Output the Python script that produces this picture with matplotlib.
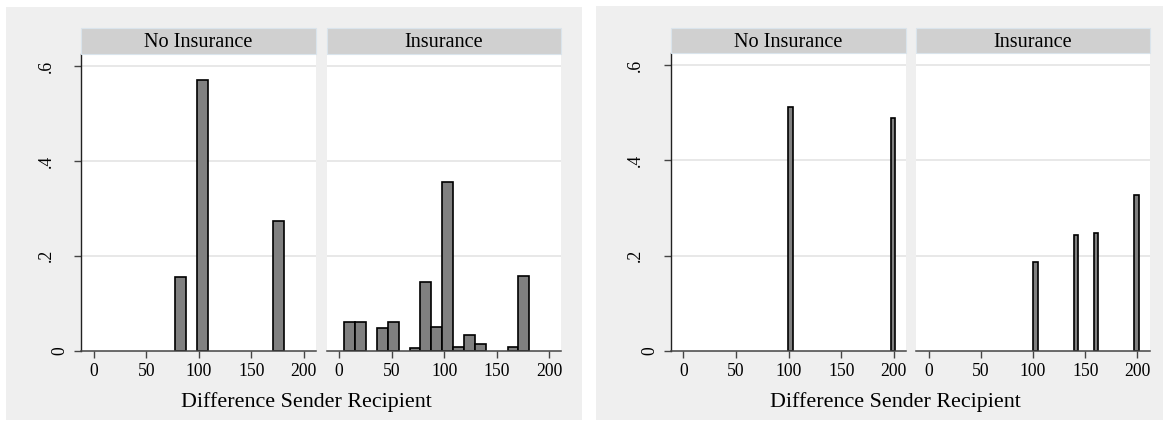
import matplotlib
matplotlib.use("Agg")
import matplotlib.pyplot as plt
from matplotlib.patches import Rectangle
import matplotlib.transforms as mtransforms

# ---------------- data ----------------
panel_titles = ["No Insurance", "Insurance"]
x_label = "Difference Sender Recipient"
x_ticks = [0, 50, 100, 150, 200]
y_ticks = [0, 0.2, 0.4, 0.6]
y_tick_labels = ["0", ".2", ".4", ".6"]

# left graph: histogram bins (midpoints) and fractions
left_bins = [10.0, 20.4, 30.7, 41.1, 51.5, 61.8, 72.2, 82.6, 92.9, 103.3,
             113.7, 124.1, 134.4, 144.8, 155.2, 165.5, 175.9]
left_no_insurance = [0, 0, 0, 0, 0, 0, 0, 0.156, 0, 0.5705,
                     0, 0, 0, 0, 0, 0, 0.2733]
left_insurance = [0.0598, 0.0598, 0, 0.047, 0.0598, 0, 0.005, 0.144, 0.0506, 0.356,
                  0.0084, 0.034, 0.0135, 0, 0, 0.0084, 0.157]

# right graph
right_no_ins_bins = [102.0, 199.2]
right_no_insurance = [0.512, 0.4898]
right_ins_bins = [102.2, 141.0, 160.3, 199.2]
right_insurance = [0.1863, 0.2424, 0.2466, 0.3267]

# ---------------- style ----------------
W, H = 1165, 421
FONT = "Liberation Serif"
BG = "#efefef"
STRIP = "#d0d0d0"
STRIP_EDGE = "#dae4ec"
GRID = "#e6e6e6"
BAR = "#808080"
AX = "#444444"

fig = plt.figure(figsize=(W / 100, H / 100), dpi=100)
fig.patch.set_facecolor("white")


def frac_rect(x0, y0, x1, y1):
    return [x0 / W, 1 - y1 / H, (x1 - x0) / W, (y1 - y0) / H]


def add_graph(bg, panels_x, y_top, y_bot, strip_top, title_x, data, width):
    x0, y0, x1, y1 = bg
    fig.add_artist(Rectangle((x0 / W, 1 - y1 / H), (x1 - x0) / W, (y1 - y0) / H,
                             transform=fig.transFigure, facecolor=BG,
                             edgecolor="none", zorder=0))
    for i, ((px0, px1), (bins, vals)) in enumerate(zip(panels_x, data)):
        ax = fig.add_axes(frac_rect(px0, y_top, px1, y_bot))
        ax.set_facecolor("white")
        xs = [b for b, v in zip(bins, vals) if v > 0]
        hs = [v for v in vals if v > 0]
        ax.bar(xs, hs, width=width, color=BAR, edgecolor="black",
               linewidth=1.2, zorder=3)
        ax.set_xlim(-11.8, 211.5)
        ax.set_ylim(0, 0.6253)
        for gy in y_ticks[1:]:
            ax.axhline(gy, color=GRID, lw=1.3, zorder=1)
        for s in ["top", "right"]:
            ax.spines[s].set_visible(False)
        ax.spines["bottom"].set_color(AX)
        ax.spines["bottom"].set_linewidth(1.1)
        ax.spines["bottom"].set_zorder(4)
        ax.set_xticks(x_ticks)
        ax.set_xticklabels([str(t) for t in x_ticks], family=FONT, fontsize=12.7)
        ax.tick_params(axis="x", length=5, width=1.0, color=AX, pad=4)
        ax.set_yticks(y_ticks)
        ax.set_yticklabels([])
        if i == 0:
            ax.spines["left"].set_color("#222222")
            ax.spines["left"].set_linewidth(1.0)
            ax.tick_params(axis="y", length=5, width=1.0, color=AX)
            for t, lab in zip(y_ticks, y_tick_labels):
                off = -21.0 if lab == "0" else -35.2
                tr = mtransforms.blended_transform_factory(ax.transAxes, ax.transData) + \
                    mtransforms.ScaledTranslation(off / 100, 0, fig.dpi_scale_trans)
                ax.text(0, t, lab, transform=tr, rotation=90, ha="center",
                        va="center", family=FONT, fontsize=12.7)
        else:
            ax.spines["left"].set_visible(False)
            ax.tick_params(axis="y", length=0)
        # strip
        fig.add_artist(Rectangle((px0 / W, 1 - y_top / H), (px1 - px0) / W,
                                 (y_top - strip_top) / H, transform=fig.transFigure,
                                 facecolor=STRIP, edgecolor=STRIP_EDGE, lw=0.8, zorder=1))
        fig.text((px0 + px1) / 2 / W, 1 - (y_top - 6.7) / H, panel_titles[i],
                 ha="center", va="baseline", family=FONT, fontsize=14.6, zorder=5)
    fig.text(title_x / W, 1 - 407 / H, x_label, ha="center", va="baseline",
             family=FONT, fontsize=15.8)


add_graph((6, 7, 582, 420), [(81.3, 316), (326.7, 561.3)], 54, 350.7, 28.3, 306,
          [(left_bins, left_no_insurance), (left_bins, left_insurance)], 10.37)
add_graph((596, 6, 1163, 420), [(671, 906), (916.3, 1149.5)], 53.3, 350.7, 27.7, 895,
          [(right_no_ins_bins, right_no_insurance), (right_ins_bins, right_insurance)], 4.5)

fig.savefig("out.png", dpi=100, facecolor="white")
